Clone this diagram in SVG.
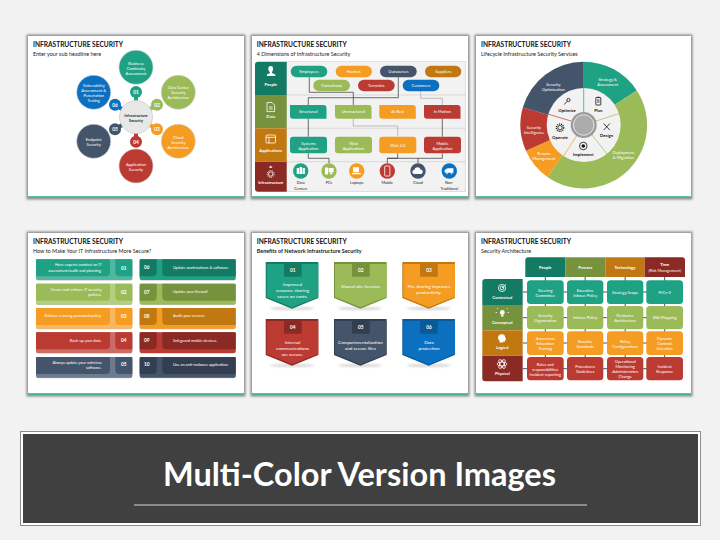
<svg xmlns="http://www.w3.org/2000/svg" xmlns:xlink="http://www.w3.org/1999/xlink" width="720" height="540" viewBox="0 0 720 540">
<style>
text{font-family:"Lato","Liberation Sans",sans-serif;dominant-baseline:central}
.ttl{font-size:6.6px;font-weight:700;fill:#111;dominant-baseline:auto}
.sub{font-size:5.45px;fill:#222;dominant-baseline:auto}
.w{font-size:4px;fill:#fff;text-anchor:middle}
.wl{font-size:3.9px;fill:#fff}
.wr{font-size:3.9px;fill:#fff;text-anchor:end}
.wb{font-size:4.1px;fill:#fff;font-weight:700;text-anchor:middle}
.n{font-size:4.8px;fill:#fff;font-weight:700;text-anchor:middle}
.c{font-size:4.6px;fill:#fff;text-anchor:middle}
.d{font-size:3.8px;fill:#222;text-anchor:middle}
.db{font-size:4.3px;fill:#111;font-weight:700;text-anchor:middle}
.panel{fill:#fff}
.sh{fill:#8c8c8c;filter:url(#blur)}
.bar{fill:#1fa283}
.line{fill:none;stroke:#333;stroke-width:.7}
.lineg{fill:none;stroke:#a6a6a6;stroke-width:.7}
.grid{fill:none;stroke:#44546a;stroke-width:1}
.spoke{stroke-width:.7}
.ic{fill:#fff}
.ico{fill:none;stroke:#fff;stroke-width:.8}
.ick{fill:#111}
.icko{fill:none;stroke:#111;stroke-width:.8}
.teal{fill:#1fa283}.green{fill:#9bbb59}.orange{fill:#f59c23}.red{fill:#bb3a32}.navy{fill:#44546a}.blue{fill:#0a70bf}
.dteal{fill:#137a63}.dgreen{fill:#76923c}.dorange{fill:#c27810}.dred{fill:#8b2a25}.dnavy{fill:#333f50}.dblue{fill:#0a5a98}
.tteal{fill:#50b8a0}.tgreen{fill:#b5cf80}.torange{fill:#f9b860}.tred{fill:#cc6a64}.tnavy{fill:#6b7a8f}
.big{stroke:#d0d0d0;stroke-width:.6}
.shadow{fill:#8f8f8f;opacity:.35;filter:url(#blur2)}
</style>
<defs>
<filter id="blur" x="-5%" y="-5%" width="110%" height="110%"><feGaussianBlur stdDeviation="1.2"/></filter>
<filter id="blur2" x="-30%" y="-100%" width="160%" height="300%"><feGaussianBlur stdDeviation="1"/></filter>
<path id="cardD" d="M0 0H52.6V36L26.3 46.7L0 36Z"/>
<path id="cardM" d="M1 2H52.6V35L26.3 45.2L1 35Z"/>
<path id="mainL" d="M0 0H74V13a4 4 0 0 1-4 4H0Z"/>
<path id="numL" d="M79.3 0H96.3V17H83.3a4 4 0 0 1-4-4Z"/>
<path id="numR" d="M0 0H17V13a4 4 0 0 1-4 4H0Z"/>
<path id="mainR" d="M22.6 0H96V17H26.6a4 4 0 0 1-4-4Z"/>
<path id="snip" d="M0 0H33.5a3 3 0 0 1 3 3V13.7H3a3 3 0 0 1-3-3Z"/>
</defs>
<rect width="720" height="540" fill="#f2f2f2"/>

<g id="slide1">
<rect class="sh" x="26.5" y="34.5" width="219" height="165"/>
<rect class="panel" x="28" y="36" width="216" height="162"/>
<rect class="bar" x="28" y="196.3" width="216" height="1.5"/>
<text class="ttl" x="33" y="47">INFRASTRUCTURE SECURITY</text>
<text class="sub" x="33" y="56">Enter your sub headline here</text>
<g stroke-width="4">
<line x1="136" y1="92" x2="136" y2="110" stroke="#1fa283"/>
<line x1="157" y1="104.7" x2="140" y2="115" stroke="#9bbb59"/>
<line x1="157" y1="129.3" x2="140" y2="119" stroke="#f59c23"/>
<line x1="136" y1="141.7" x2="136" y2="124" stroke="#bb3a32"/>
<line x1="115" y1="129.3" x2="132" y2="119" stroke="#44546a"/>
<line x1="115" y1="104.7" x2="132" y2="115" stroke="#0a70bf"/>
</g>
<g id="hub"><circle cx="136" cy="117" r="16.5" fill="#e8e8e8" stroke="#c8c8c8" stroke-width=".7"/><text class="d" style="font-weight:700" x="136" y="117"><tspan x="136" y="114.5">Infrastructure</tspan><tspan x="136" y="119.5">Security</tspan></text></g>
<g id="n1"><circle class="teal big" cx="136" cy="67.3" r="17"/><text class="w"><tspan x="136" y="63.3">Business</tspan><tspan x="136" y="68.3">Continuity</tspan><tspan x="136" y="73.3">Assessment</tspan></text><circle class="teal" cx="136" cy="92" r="6"/><text class="n" x="136" y="92">01</text></g>
<g id="n2"><circle class="green big" cx="178.3" cy="92.3" r="17"/><text class="w"><tspan x="178.3" y="87.3">Data Center</tspan><tspan x="178.3" y="92.3">Security</tspan><tspan x="178.3" y="97.3">Architecture</tspan></text><circle class="green" cx="157" cy="104.7" r="6"/><text class="n" x="157" y="104.7">02</text></g>
<g id="n3"><circle class="orange big" cx="178.3" cy="141.3" r="17"/><text class="w"><tspan x="178.3" y="136.5">Cloud</tspan><tspan x="178.3" y="141.5">Security</tspan><tspan x="178.3" y="146.5">Architecture</tspan></text><circle class="orange" cx="157" cy="129.3" r="6"/><text class="n" x="157" y="129.3">03</text></g>
<g id="n4"><circle class="red big" cx="136" cy="166" r="17"/><text class="w"><tspan x="136" y="163.5">Application</tspan><tspan x="136" y="168.5">Security</tspan></text><circle class="red" cx="136" cy="141.7" r="6"/><text class="n" x="136" y="141.7">04</text></g>
<g id="n5"><circle class="navy big" cx="93.7" cy="141.3" r="17"/><text class="w"><tspan x="93.7" y="138.7">Endpoint</tspan><tspan x="93.7" y="143.7">Security</tspan></text><circle class="navy" cx="115" cy="129.3" r="6"/><text class="n" x="115" y="129.3">05</text></g>
<g id="n6"><circle class="blue big" cx="93.7" cy="92.3" r="17"/><text class="w"><tspan x="93.7" y="84.8">Vulnerability</tspan><tspan x="93.7" y="89.8">Assessment &amp;</tspan><tspan x="93.7" y="94.8">Penetration</tspan><tspan x="93.7" y="99.8">Testing</tspan></text><circle class="blue" cx="115" cy="104.7" r="6"/><text class="n" x="115" y="104.7">06</text></g>
</g>

<g id="slide2">
<rect class="sh" x="250.5" y="34.5" width="219" height="165"/>
<rect class="panel" x="252" y="36" width="216" height="162"/>
<rect class="bar" x="252" y="196.3" width="216" height="1.5"/>
<text class="ttl" x="256.7" y="47">INFRASTRUCTURE SECURITY</text>
<text class="sub" x="256.7" y="56">4 Dimensions of Infrastructure Security</text>
<rect x="286.7" y="61.7" width="179" height="130" fill="#f2f2f2" stroke="#d0d0d0" stroke-width=".6"/>
<path d="M286.7 95H465.7M286.7 128.3H465.7M286.7 161.7H465.7" stroke="#d0d0d0" stroke-width=".7" fill="none"/>
<g id="dimPeople"><path class="dteal" d="M286.7 61.7V95H255V64.7a3 3 0 0 1 3-3Z"/><path class="ic" d="M268.3 68.5a2.4 2.4 0 0 1 4.8 0c0 1.6-.6 3-1.2 3.6v.8l3.4 1.6v1.4h-8.4v-1.4l3-1.6v-.8c-.9-.6-1.6-2-1.6-3.6Z"/><text class="wb" x="270.7" y="84">People</text></g>
<g id="dimData"><rect class="dgreen" x="255" y="95" width="31.7" height="33.3"/><path class="ico" d="M267 102.5h5l2.6 2.6v6.5H267Z"/><path class="ico" d="M269 107h3.6M269 109h3.6" stroke-width=".5"/><text class="wb" x="270.7" y="116.7">Data</text></g>
<g id="dimApps"><rect class="dorange" x="255" y="128.3" width="31.7" height="33.4"/><rect class="ico" x="266" y="135" width="9.5" height="8" rx=".8"/><path class="ico" d="M266 137.3h9.5M269 137.3v5.7"/><text class="wb" x="270.7" y="150">Applications</text></g>
<g id="dimInfra"><path class="dred" d="M255 161.7H286.7V191.7H258a3 3 0 0 1-3-3Z"/><circle cx="270.7" cy="174" r="2.2" class="ico" stroke-width="1.2"/><circle cx="270.7" cy="174" r="3.4" fill="none" stroke="#fff" stroke-width="1" stroke-dasharray="1 .9"/><path class="ic" d="M270.7 165.5l1.8 2.3h-3.6Z"/><text class="wb" x="270.7" y="182.7">Infrastructure</text></g>
<g id="connectors2">
<path class="line" d="M309.3 77.3V92.3H353.3V105"/>
<path class="line" d="M398.3 77.3V97.7H308.3V105"/>
<path class="lineg" d="M420.7 91.3V98.3H442.3V105"/>
<path class="lineg" d="M353.3 118.7V126H397.7V136.7"/>
<path class="line" d="M308.3 118.7V136.7"/>
<path class="line" d="M442.3 118.7V136.7"/>
<path class="line" d="M308.3 153.3V158.3H329V163.3"/>
<path class="line" d="M397.7 153.3V158.3H387.3V163.3"/>
<path class="line" d="M442.3 153.3V158.3H387.3"/>
<path class="line" d="M418 158.3V163.3"/>
</g>
<g id="pills">
<g id="pEmployees"><rect class="teal" x="290.7" y="65.7" width="36.6" height="11.6" rx="5.8"/><text class="w" x="309" y="71.5">Employees</text></g>
<g id="pHackers"><rect class="orange" x="335.7" y="65.7" width="36.3" height="11.6" rx="5.8"/><text class="w" x="353.8" y="71.5">Hackers</text></g>
<g id="pOutsources"><rect class="navy" x="380" y="65.7" width="36.7" height="11.6" rx="5.8"/><text class="w" x="398.3" y="71.5">Outsources</text></g>
<g id="pSuppliers"><rect class="dorange" x="425" y="65.7" width="36.3" height="11.6" rx="5.8"/><text class="w" x="443.2" y="71.5">Suppliers</text></g>
<g id="pConsultants"><rect class="green" x="313.3" y="79.7" width="36.7" height="11.6" rx="5.8"/><text class="w" x="331.7" y="85.5">Consultants</text></g>
<g id="pTerrorists"><rect class="red" x="358" y="79.7" width="36.7" height="11.6" rx="5.8"/><text class="w" x="376.3" y="85.5">Terrorists</text></g>
<g id="pCustomers"><rect class="blue" x="402.7" y="79.7" width="36.6" height="11.6" rx="5.8"/><text class="w" x="421" y="85.5">Customers</text></g>
</g>
<g id="dataRow">
<g id="dStructured"><use href="#snip" class="teal" x="290" y="105"/><text class="w" x="308.3" y="111.5">Structured</text></g>
<g id="dUnstructured"><use href="#snip" class="green" x="335" y="105"/><text class="w" x="353.3" y="111.5">Unstructured</text></g>
<g id="dRest"><use href="#snip" class="orange" x="379.3" y="105"/><text class="w" x="397.7" y="111.5">At Rest</text></g>
<g id="dMotion"><use href="#snip" class="red" x="424" y="105"/><text class="w" x="442.3" y="111.5">In Motion</text></g>
</g>
<g id="appRow">
<g id="aSystems"><rect class="teal" x="290" y="136.7" width="37" height="16.6" rx="3"/><text class="w"><tspan x="308.5" y="142.5">Systems</tspan><tspan x="308.5" y="147.7">Application</tspan></text></g>
<g id="aWeb"><rect class="green" x="335" y="136.7" width="37" height="16.6" rx="3"/><text class="w"><tspan x="353.5" y="142.5">Web</tspan><tspan x="353.5" y="147.7">Applications</tspan></text></g>
<g id="aWeb2"><rect class="orange" x="379.3" y="136.7" width="37" height="16.6" rx="3"/><text class="w" x="397.8" y="145">Web 2.0</text></g>
<g id="aMobile"><rect class="red" x="424" y="136.7" width="37" height="16.6" rx="3"/><text class="w"><tspan x="442.5" y="142.5">Mobile</tspan><tspan x="442.5" y="147.7">Application</tspan></text></g>
</g>
<g id="infraRow">
<g id="iData"><circle class="teal" cx="300.7" cy="171" r="7.7"/><path class="ic" d="M296.7 168h2.4v6h-2.4ZM299.6 167h2.4v7h-2.4ZM302.5 168h2.4v6h-2.4Z"/><text class="d"><tspan x="300.7" y="182.3">Data</tspan><tspan x="300.7" y="187.7">Centers</tspan></text></g>
<g id="iPCs"><circle class="green" cx="329" cy="171" r="7.7"/><path class="ic" d="M325 167.5h3v7h-3ZM328.6 168h5v4.5h-5ZM330 173h2.2v1.2H330Z"/><text class="d" x="329" y="182.3">PCs</text></g>
<g id="iLaptops"><circle class="orange" cx="356.7" cy="171" r="7.7"/><path class="ic" d="M353 167.3h6v5h-6ZM352 173h9.5l-1 1.3H352Z"/><text class="d" x="356.7" y="182.3">Laptops</text></g>
<g id="iMobile"><circle class="red" cx="387.3" cy="171" r="7.7"/><rect class="ico" x="384.7" y="166" width="5.2" height="10" rx=".7" stroke-width=".6"/><text class="d" x="387.3" y="182.3">Mobile</text></g>
<g id="iCloud"><circle class="navy" cx="418" cy="171" r="7.7"/><path class="ic" d="M414.3 174a2 2 0 0 1 0-4a3.3 3.3 0 0 1 6.3-.6a2.4 2.4 0 0 1 .7 4.6Z"/><text class="d" x="418" y="182.3">Cloud</text></g>
<g id="iNon"><circle class="blue" cx="449.3" cy="171" r="7.7"/><path class="ic" d="M444.6 170l3-1.7h5.8v4.5h-7.8l-1-.6ZM446 173.2a1 1 0 0 0 2 0ZM450.5 173.2a1 1 0 0 0 2 0Z"/><text class="d"><tspan x="449.3" y="182.3">Non-</tspan><tspan x="449.3" y="187.7">Traditional</tspan></text></g>
</g>
</g>

<g id="slide3">
<rect class="sh" x="474.5" y="34.5" width="218" height="165"/>
<rect class="panel" x="476" y="36" width="215" height="162"/>
<rect class="bar" x="476" y="196.3" width="215" height="1.5"/>
<text class="ttl" x="481" y="47">INFRASTRUCTURE SECURITY</text>
<text class="sub" x="481" y="56">Lifecycle Infrastructure Security Services</text>
<g id="wheel">
<g id="wStrategy"><path class="teal" d="M583.7 125L583.7 61.7A63.3 63.3 0 0 1 636.8 90.5Z"/><text class="w"><tspan x="607.7" y="78.7">Strategy &amp;</tspan><tspan x="607.7" y="84">Assessment</tspan></text></g>
<g id="wDeploy"><path class="green" d="M583.7 125L636.8 90.5A63.3 63.3 0 0 1 547.4 176.9Z"/><text class="w"><tspan x="623.3" y="151.7">Deployment</tspan><tspan x="623.3" y="157">&amp; Migration</tspan></text></g>
<g id="wRemote"><path class="orange" d="M583.7 125L547.4 176.9A63.3 63.3 0 0 1 525.9 150.7Z"/><text class="w"><tspan x="544" y="152.7">Remote</tspan><tspan x="544" y="157.7">Management</tspan></text></g>
<g id="wIntel"><path class="red" d="M583.7 125L525.9 150.7A63.3 63.3 0 0 1 522.8 107.6Z"/><text class="w"><tspan x="534" y="126.7">Security</tspan><tspan x="534" y="131.7">Intelligence</tspan></text></g>
<g id="wOptim"><path class="navy" d="M583.7 125L522.8 107.6A63.3 63.3 0 0 1 583.7 61.7Z"/><text class="w"><tspan x="553.3" y="83.7">Security</tspan><tspan x="553.3" y="88.7">Optimization</tspan></text></g>
<circle cx="583.7" cy="125" r="37" fill="#f2f2f2"/>
<line class="spoke" x1="583.7" y1="88" x2="583.7" y2="112" stroke="#1fa283"/>
<line class="spoke" x1="618.9" y1="113.6" x2="596" y2="121" stroke="#9bbb59"/>
<line class="spoke" x1="607" y1="153.8" x2="592" y2="135" stroke="#9bbb59"/>
<line class="spoke" x1="563.5" y1="156" x2="576.5" y2="136" stroke="#f59c23"/>
<line class="spoke" x1="548.3" y1="114.2" x2="571" y2="121" stroke="#bb3a32"/>
<circle cx="583.7" cy="125" r="13" fill="#9a9a9a"/>
<circle cx="583.7" cy="125" r="10.3" fill="#ababab" stroke="#e6e6e6" stroke-width="1"/>
<g id="iPlan"><rect class="icko" x="595.8" y="97.5" width="5" height="7.5" rx=".5"/><path class="icko" d="M597 100h2.6M597 102h2.6M597.3 97.2h2" stroke-width=".5"/><text class="db" x="598.3" y="110.7">Plan</text></g>
<g id="iDesign"><path class="icko" d="M603.6 123.5l6.2 6.6M609.8 123.5l-6.2 6.6" stroke-width="1.2"/><text class="db" x="606.7" y="135.3">Design</text></g>
<g id="iImpl"><circle class="icko" cx="583.3" cy="146" r="3.8"/><circle class="ick" cx="583.3" cy="146" r="1.8"/><text class="db" x="583.3" y="154.3">Implement</text></g>
<g id="iOper"><circle cx="560" cy="127.7" r="2.2" class="icko" stroke-width="1.5"/><circle cx="560" cy="127.7" r="3.7" fill="none" stroke="#111" stroke-width="1.2" stroke-dasharray="1.1 .9"/><text class="db" x="560" y="137">Operate</text></g>
<g id="iOptim"><circle class="icko" cx="568.5" cy="100" r="1.6"/><path class="icko" d="M567.3 101.2l-3 3.3" stroke-width="1.1"/><text class="db" x="567" y="110">Optimize</text></g>
</g>
</g>

<g id="slide4">
<rect class="sh" x="26.5" y="231.5" width="219" height="165"/>
<rect class="panel" x="28" y="233" width="216" height="162"/>
<rect class="bar" x="28" y="393.3" width="216" height="1.5"/>
<text class="ttl" x="33" y="244.3">INFRASTRUCTURE SECURITY</text>
<text class="sub" x="33" y="253">How to Make Your IT Infrastructure More Secure?</text>
<g id="s1"><rect x="36" y="259.3" width="96.3" height="21.3" rx="2" fill="#bdbdbd"/><rect class="tteal" x="36" y="259.3" width="96.3" height="20.7" rx="2"/><use href="#mainL" class="teal" x="36" y="259.3"/><use href="#numL" class="teal" x="36" y="259.3"/><text class="wr"><tspan x="101.7" y="264">Have experts conduct an IT</tspan><tspan x="101.7" y="269.7">assessment/audit and planning.</tspan></text><text class="n" x="123.7" y="267.5">01</text></g>
<g id="s2"><rect x="36" y="283.7" width="96.3" height="21.3" rx="2" fill="#bdbdbd"/><rect class="tgreen" x="36" y="283.7" width="96.3" height="20.7" rx="2"/><use href="#mainL" class="green" x="36" y="283.7"/><use href="#numL" class="green" x="36" y="283.7"/><text class="wr"><tspan x="101.7" y="289">Create and enforce IT security</tspan><tspan x="101.7" y="294.3">policies.</tspan></text><text class="n" x="123.7" y="292">02</text></g>
<g id="s3"><rect x="36" y="308" width="96.3" height="21.3" rx="2" fill="#bdbdbd"/><rect class="torange" x="36" y="308" width="96.3" height="20.7" rx="2"/><use href="#mainL" class="orange" x="36" y="308"/><use href="#numL" class="orange" x="36" y="308"/><text class="wr" x="101.7" y="315.7">Enforce a strong password policy.</text><text class="n" x="123.7" y="316">03</text></g>
<g id="s4"><rect x="36" y="332.3" width="96.3" height="21.3" rx="2" fill="#bdbdbd"/><rect class="tred" x="36" y="332.3" width="96.3" height="20.7" rx="2"/><use href="#mainL" class="red" x="36" y="332.3"/><use href="#numL" class="red" x="36" y="332.3"/><text class="wr" x="101.7" y="340.3">Back-up your data.</text><text class="n" x="123.7" y="339.5">04</text></g>
<g id="s5"><rect x="36" y="357" width="96.3" height="21.3" rx="2" fill="#bdbdbd"/><rect class="tnavy" x="36" y="357" width="96.3" height="20.7" rx="2"/><use href="#mainL" class="navy" x="36" y="357"/><use href="#numL" class="navy" x="36" y="357"/><text class="wr"><tspan x="101.7" y="361.7">Always update your antivirus</tspan><tspan x="101.7" y="367">software.</tspan></text><text class="n" x="123.7" y="364">05</text></g>
<g id="s6"><rect x="139.7" y="259.3" width="96" height="21.3" rx="2" fill="#bdbdbd"/><rect class="teal" x="139.7" y="259.3" width="96" height="20.7" rx="2"/><use href="#numR" class="dteal" x="139.7" y="259.3"/><use href="#mainR" class="dteal" x="139.7" y="259.3"/><text class="n" x="146.7" y="267.3">06</text><text class="wl" x="173" y="267">Update workstations &amp; software.</text></g>
<g id="s7"><rect x="139.7" y="283.7" width="96" height="21.3" rx="2" fill="#bdbdbd"/><rect class="green" x="139.7" y="283.7" width="96" height="20.7" rx="2"/><use href="#numR" class="dgreen" x="139.7" y="283.7"/><use href="#mainR" class="dgreen" x="139.7" y="283.7"/><text class="n" x="146.7" y="291.5">07</text><text class="wl" x="173" y="291.3">Update your firewall.</text></g>
<g id="s8"><rect x="139.7" y="308" width="96" height="21.3" rx="2" fill="#bdbdbd"/><rect class="orange" x="139.7" y="308" width="96" height="20.7" rx="2"/><use href="#numR" class="dorange" x="139.7" y="308"/><use href="#mainR" class="dorange" x="139.7" y="308"/><text class="n" x="146.7" y="316">08</text><text class="wl" x="173" y="315.7">Audit your servers.</text></g>
<g id="s9"><rect x="139.7" y="332.3" width="96" height="21.3" rx="2" fill="#bdbdbd"/><rect class="red" x="139.7" y="332.3" width="96" height="20.7" rx="2"/><use href="#numR" class="dred" x="139.7" y="332.3"/><use href="#mainR" class="dred" x="139.7" y="332.3"/><text class="n" x="146.7" y="340">09</text><text class="wl" x="173" y="340">Safeguard mobile devices.</text></g>
<g id="s10"><rect x="139.7" y="357" width="96" height="21.3" rx="2" fill="#bdbdbd"/><rect class="navy" x="139.7" y="357" width="96" height="20.7" rx="2"/><use href="#numR" class="dnavy" x="139.7" y="357"/><use href="#mainR" class="dnavy" x="139.7" y="357"/><text class="n" x="146.7" y="364">10</text><text class="wl" x="173" y="364.5">Use an anti-malware application.</text></g>
</g>

<g id="slide5">
<rect class="sh" x="250.5" y="231.5" width="219" height="165"/>
<rect class="panel" x="252" y="233" width="216" height="162"/>
<rect class="bar" x="252" y="393.3" width="216" height="1.5"/>
<text class="ttl" x="256.7" y="244.3">INFRASTRUCTURE SECURITY</text>
<text class="sub" x="256.7" y="253" style="font-weight:700">Benefits of Network Infrastructure Security</text>
<g id="b1"><ellipse class="shadow" cx="292" cy="308.5" rx="22" ry="1.6"/><use href="#cardD" class="dteal" x="265.7" y="262"/><use href="#cardM" class="teal" x="265.7" y="262"/><rect class="dteal" x="284" y="263.5" width="17.7" height="13.2" rx="1"/><text class="n" x="292.8" y="269.5">01</text><text class="c"><tspan x="292.5" y="284.3">Improved</tspan><tspan x="292.5" y="290">resource sharing</tspan><tspan x="292.5" y="295.7">saves on costs.</tspan></text></g>
<g id="b2"><ellipse class="shadow" cx="360" cy="308.5" rx="22" ry="1.6"/><use href="#cardD" class="dgreen" x="334" y="262"/><use href="#cardM" class="green" x="334" y="262"/><rect class="dgreen" x="352" y="263.5" width="17.7" height="13.2" rx="1"/><text class="n" x="360.8" y="269.5">02</text><text class="c" x="360.5" y="286">Shared site licenses</text></g>
<g id="b3"><ellipse class="shadow" cx="428.7" cy="308.5" rx="22" ry="1.6"/><use href="#cardD" class="dorange" x="402.3" y="262"/><use href="#cardM" class="orange" x="402.3" y="262"/><rect class="dorange" x="420" y="263.5" width="17.7" height="13.2" rx="1"/><text class="n" x="429" y="269.5">03</text><text class="c"><tspan x="429" y="286">File sharing improves</tspan><tspan x="429" y="291.7">productivity.</tspan></text></g>
<g id="b4"><ellipse class="shadow" cx="292" cy="365.5" rx="22" ry="1.6"/><use href="#cardD" class="dred" x="265.7" y="319"/><use href="#cardM" class="red" x="265.7" y="319"/><rect class="dred" x="284" y="320.5" width="17.7" height="13.2" rx="1"/><text class="n" x="292.8" y="326.5">04</text><text class="c"><tspan x="292.5" y="342">Internal</tspan><tspan x="292.5" y="348">communications</tspan><tspan x="292.5" y="354">are secure.</tspan></text></g>
<g id="b5"><ellipse class="shadow" cx="360" cy="365.5" rx="22" ry="1.6"/><use href="#cardD" class="dnavy" x="334" y="319"/><use href="#cardM" class="navy" x="334" y="319"/><rect class="dnavy" x="352" y="320.5" width="17.7" height="13.2" rx="1"/><text class="n" x="360.8" y="326.5">05</text><text class="c"><tspan x="360.5" y="342.3">Compartmentalization</tspan><tspan x="360.5" y="348">and secure files</tspan></text></g>
<g id="b6"><ellipse class="shadow" cx="428.7" cy="365.5" rx="22" ry="1.6"/><use href="#cardD" class="dblue" x="402.3" y="319"/><use href="#cardM" class="blue" x="402.3" y="319"/><rect class="dblue" x="420" y="320.5" width="17.7" height="13.2" rx="1"/><text class="n" x="429" y="326.5">06</text><text class="c"><tspan x="429" y="342.3">Data</tspan><tspan x="429" y="348">protection</tspan></text></g>
</g>

<g id="slide6">
<rect class="sh" x="474.5" y="231.5" width="218" height="165"/>
<rect class="panel" x="476" y="233" width="215" height="162"/>
<rect class="bar" x="476" y="393.3" width="215" height="1.5"/>
<text class="ttl" x="481" y="244.3">INFRASTRUCTURE SECURITY</text>
<text class="sub" x="481" y="253">Security Architecture</text>
<g id="connectors6">
<path class="grid" d="M545.3 277V358M585.2 277V358M625.2 277V358M664.7 277V358"/>
<path class="grid" d="M522.7 292H665M522.7 317.7H665M522.7 343H665M522.7 368.7H665"/>
</g>
<g id="hPeople"><path class="dteal" d="M565.3 257.3V277H525.3V260.3a3 3 0 0 1 3-3Z"/><text class="wb" x="545.3" y="267.3">People</text></g>
<g id="hProcess"><rect class="dgreen" x="565.3" y="257.3" width="40" height="19.7"/><text class="wb" x="585.2" y="267.3">Process</text></g>
<g id="hTech"><rect class="dorange" x="605.3" y="257.3" width="39.4" height="19.7"/><text class="wb" x="625" y="267.3">Technology</text></g>
<g id="hTime"><path class="dred" d="M644.7 257.3H682a3 3 0 0 1 3 3V277H644.7Z"/><text class="wb"><tspan x="664.7" y="264">Time</tspan><tspan x="664.7" y="269.7" style="font-weight:400;font-size:3.9px">(Risk Management)</tspan></text></g>
<g id="lContext"><path class="dteal" d="M522.7 279V305H482.3V282a3 3 0 0 1 3-3Z"/><circle class="ico" cx="502" cy="288" r="3.6"/><circle class="ico" cx="502" cy="288" r="1.8" stroke-width=".6"/><path class="ico" d="M502 288l4-3.6" stroke-width=".6"/><text class="wb" x="502.3" y="297.3">Contextual</text></g>
<g id="lConcept"><rect class="dgreen" x="482.3" y="305" width="40.4" height="25.3"/><circle class="ic" cx="502.3" cy="312.5" r="2.4"/><rect class="ic" x="501.2" y="315" width="2.2" height="1.6"/><path class="ico" d="M498 309l-1-1M506.6 309l1-1M497 312.5h-1.4M507.6 312.5h1.4" stroke-width=".5"/><text class="wb" x="502.3" y="322.3">Conceptual</text></g>
<g id="lLogic"><rect class="dorange" x="482.3" y="330.3" width="40.4" height="25.4"/><path class="ic" d="M499.5 342.5v-2c-1.3-.8-1.7-2-1.5-3.2c.3-2 2-3 3.8-3s3.4 1.2 3.4 3l1 2.2l-1 .3v1.7h-2v1Z"/><text class="wb" x="502.3" y="347.7">Logical</text></g>
<g id="lPhys"><path class="dred" d="M482.3 355.7H522.7V381.3H485.3a3 3 0 0 1-3-3Z"/><ellipse class="ico" cx="502" cy="364" rx="5" ry="2" stroke-width=".5"/><ellipse class="ico" cx="502" cy="364" rx="5" ry="2" stroke-width=".5" transform="rotate(60 502 364)"/><ellipse class="ico" cx="502" cy="364" rx="5" ry="2" stroke-width=".5" transform="rotate(120 502 364)"/><text class="wb" x="502.3" y="373.7">Physical</text></g>
<g id="r1">
<g id="c11"><rect class="teal" x="527" y="280.3" width="36.7" height="23.7" rx="3.5"/><text class="w"><tspan x="545.3" y="289.7">Steering</tspan><tspan x="545.3" y="294.7">Committee</tspan></text></g>
<g id="c12"><rect class="teal" x="567" y="280.3" width="36.3" height="23.7" rx="3.5"/><text class="w"><tspan x="585.2" y="289.7">Executive</tspan><tspan x="585.2" y="294.7">Infosec Policy</tspan></text></g>
<g id="c13"><rect class="teal" x="607" y="280.3" width="36.3" height="23.7" rx="3.5"/><text class="w" x="625.2" y="292">Strategy Scope</text></g>
<g id="c14"><rect class="teal" x="646.3" y="280.3" width="36.7" height="23.7" rx="3.5"/><text class="w" x="664.7" y="292">PrCn-II</text></g>
</g>
<g id="r2">
<g id="c21"><rect class="green" x="527" y="306" width="36.7" height="23.3" rx="3.5"/><text class="w"><tspan x="545.3" y="315">Security</tspan><tspan x="545.3" y="320">Organization</tspan></text></g>
<g id="c22"><rect class="green" x="567" y="306" width="36.3" height="23.3" rx="3.5"/><text class="w" x="585.2" y="317.5">Infosec Policy</text></g>
<g id="c23"><rect class="green" x="607" y="306" width="36.3" height="23.3" rx="3.5"/><text class="w"><tspan x="625.2" y="315">Perimeter</tspan><tspan x="625.2" y="320">Architecture</tspan></text></g>
<g id="c24"><rect class="green" x="646.3" y="306" width="36.7" height="23.3" rx="3.5"/><text class="w" x="664.7" y="317.5">BIA/Mapping</text></g>
</g>
<g id="r3">
<g id="c31"><rect class="orange" x="527" y="331.3" width="36.7" height="23.7" rx="3.5"/><text class="w"><tspan x="545.3" y="338">Awareness</tspan><tspan x="545.3" y="343">Education</tspan><tspan x="545.3" y="348">Training</tspan></text></g>
<g id="c32"><rect class="orange" x="567" y="331.3" width="36.3" height="23.7" rx="3.5"/><text class="w"><tspan x="585.2" y="340.5">Baseline</tspan><tspan x="585.2" y="345.5">Standards</tspan></text></g>
<g id="c33"><rect class="orange" x="607" y="331.3" width="36.3" height="23.7" rx="3.5"/><text class="w"><tspan x="625.2" y="340.5">Policy</tspan><tspan x="625.2" y="345.5">Configurations</tspan></text></g>
<g id="c34"><rect class="orange" x="646.3" y="331.3" width="36.7" height="23.7" rx="3.5"/><text class="w"><tspan x="664.7" y="338">Dynamic</tspan><tspan x="664.7" y="343">Controls</tspan><tspan x="664.7" y="348">Selection</tspan></text></g>
</g>
<g id="r4">
<g id="c41"><rect class="red" x="527" y="357" width="36.7" height="23.3" rx="3.5"/><text class="w"><tspan x="545.3" y="363.5">Roles and</tspan><tspan x="545.3" y="368.5">responsibilities</tspan><tspan x="545.3" y="373.5">Incident reporting</tspan></text></g>
<g id="c42"><rect class="red" x="567" y="357" width="36.3" height="23.3" rx="3.5"/><text class="w"><tspan x="585.2" y="365.7">Procedures</tspan><tspan x="585.2" y="370.7">Guidelines</tspan></text></g>
<g id="c43"><rect class="red" x="607" y="357" width="36.3" height="23.3" rx="3.5"/><text class="w"><tspan x="625.2" y="360.5">Operational</tspan><tspan x="625.2" y="365.5">Monitoring</tspan><tspan x="625.2" y="370.5">Administration</tspan><tspan x="625.2" y="375.5">Change</tspan></text></g>
<g id="c44"><rect class="red" x="646.3" y="357" width="36.7" height="23.3" rx="3.5"/><text class="w"><tspan x="664.7" y="365.7">Incident</tspan><tspan x="664.7" y="370.7">Response</tspan></text></g>
</g>
</g>

<g id="banner">
<rect x="20" y="431" width="681" height="95" fill="#8c8c8c"/>
<rect x="21" y="432" width="679" height="93" fill="#fff"/>
<rect x="23" y="434" width="675" height="89" fill="#404040"/>
<text x="359.5" y="486" text-anchor="middle" font-size="32.5" font-weight="700" fill="#fff" style="dominant-baseline:auto">Multi-Color Version Images</text>
<line x1="134" y1="505" x2="587" y2="505" stroke="#fff" stroke-width=".8"/>
</g>
</svg>
